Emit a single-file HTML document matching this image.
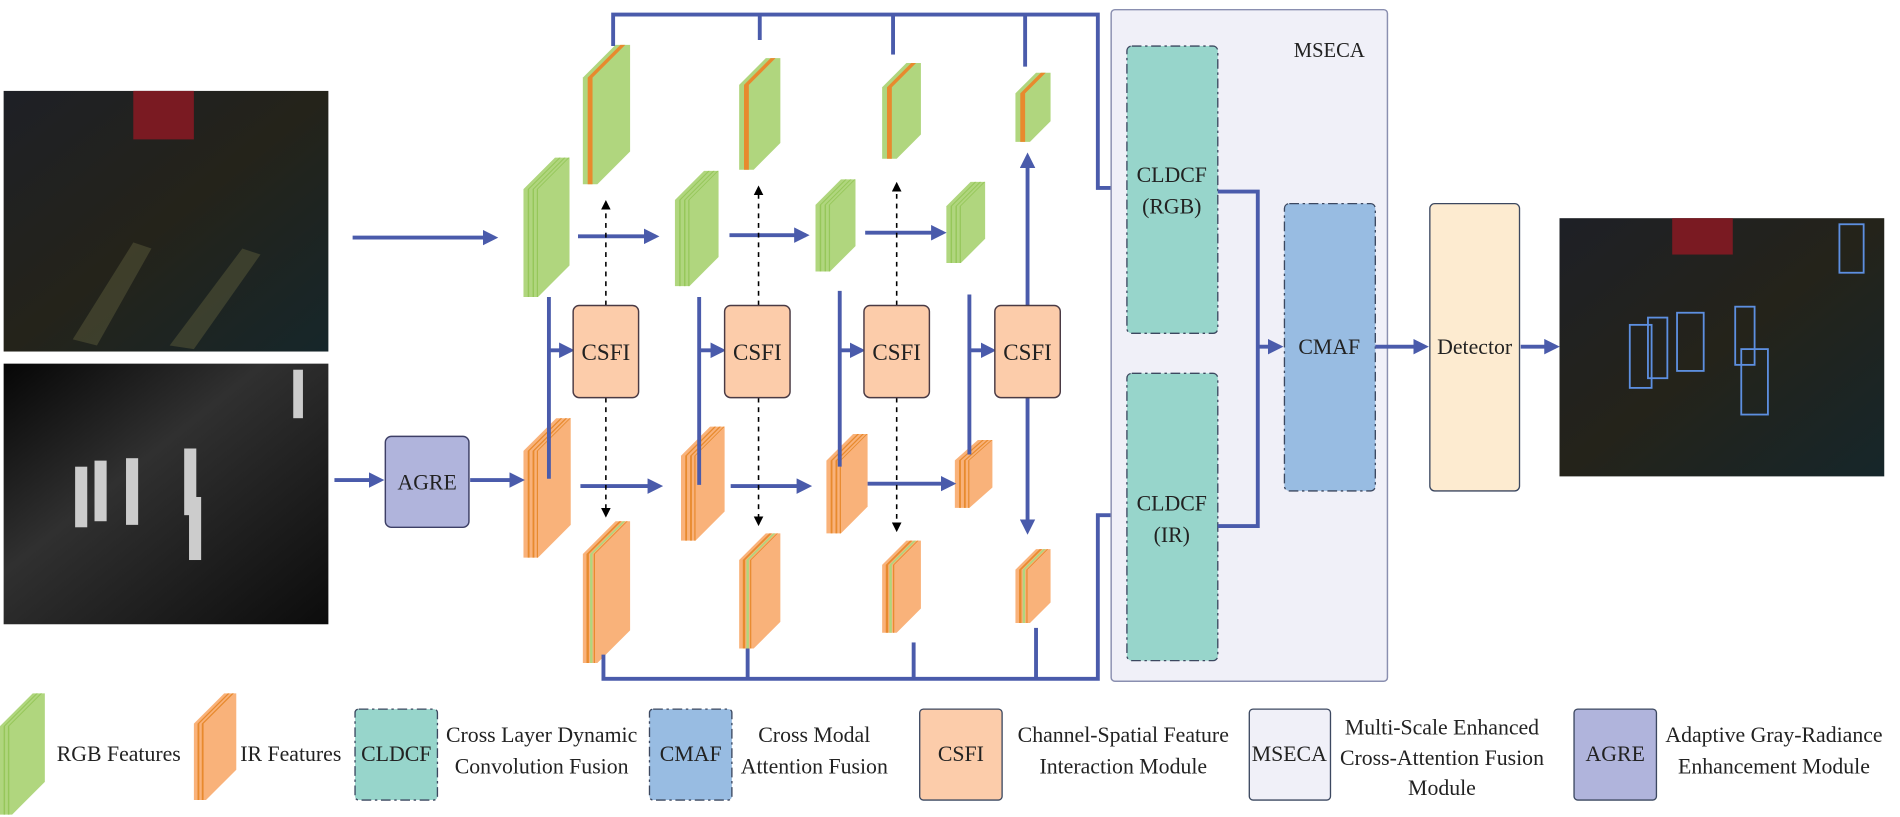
<!DOCTYPE html>
<html><head><meta charset="utf-8"><style>
html,body{margin:0;padding:0;background:#fff;}
svg{display:block;}
text{font-family:"Liberation Serif",serif;fill:#222;}
</style></head><body>
<svg id="s" width="1900" height="817" viewBox="0 0 1568 674" preserveAspectRatio="none" xmlns="http://www.w3.org/2000/svg">
<defs>
<marker id="ab" markerWidth="4" markerHeight="4" refX="3" refY="2" orient="auto" markerUnits="strokeWidth"><path d="M0,0 L4,2 L0,4 z" fill="#4a5bab"/></marker>
<marker id="ak" markerWidth="8" markerHeight="8" refX="6" refY="4" orient="auto" markerUnits="userSpaceOnUse"><path d="M0,0 L8,4 L0,8 z" fill="#000"/></marker>
<linearGradient id="rgbp" x1="0" y1="0" x2="1" y2="1"><stop offset="0" stop-color="#1e2026"/><stop offset="0.5" stop-color="#24231a"/><stop offset="1" stop-color="#16262a"/></linearGradient>
<linearGradient id="irp" x1="0" y1="0" x2="1" y2="1"><stop offset="0" stop-color="#060606"/><stop offset="0.4" stop-color="#303030"/><stop offset="1" stop-color="#0c0c0c"/></linearGradient>
</defs>

<rect x="3" y="75" width="268" height="215" fill="url(#rgbp)"/>
<rect x="110" y="75" width="50" height="40" fill="#7a1a22"/>
<polygon points="60,280 110,200 125,205 80,285" fill="#5a5a3a" opacity="0.5"/>
<polygon points="140,285 200,205 215,210 160,288" fill="#5a5a3a" opacity="0.5"/>
<rect x="3" y="300" width="268" height="215" fill="url(#irp)"/>
<g fill="#ccc"><rect x="62" y="385" width="10" height="50"/><rect x="78" y="380" width="10" height="50"/><rect x="104" y="378" width="10" height="55"/><rect x="152" y="370" width="10" height="55"/><rect x="156" y="410" width="10" height="52"/><rect x="242" y="305" width="8" height="40"/></g>

<rect x="1287" y="180" width="268" height="213" fill="url(#rgbp)"/>
<rect x="1380" y="180" width="50" height="30" fill="#7a1a22"/>
<g fill="none" stroke="#5d8fe0" stroke-width="1.5"><rect x="1518" y="185" width="20" height="40"/><rect x="1345" y="268" width="18" height="52"/><rect x="1360" y="262" width="16" height="50"/><rect x="1384" y="258" width="22" height="48"/><rect x="1432" y="253" width="16" height="48"/><rect x="1437" y="288" width="22" height="54"/></g>

<g id="stacks"></g>

<g stroke="#4a5bab" stroke-width="3.2" fill="none">
<line x1="291" y1="196" x2="408" y2="196" marker-end="url(#ab)"/>
<line x1="276" y1="396" x2="314" y2="396" marker-end="url(#ab)"/>
<line x1="388" y1="396" x2="430" y2="396" marker-end="url(#ab)"/>
<line x1="477" y1="195" x2="541" y2="195" marker-end="url(#ab)"/>
<line x1="602" y1="194" x2="665" y2="194" marker-end="url(#ab)"/>
<line x1="714" y1="192" x2="778" y2="192" marker-end="url(#ab)"/>
<line x1="479" y1="401" x2="544" y2="401" marker-end="url(#ab)"/>
<line x1="603" y1="401" x2="667" y2="401" marker-end="url(#ab)"/>
<line x1="716" y1="399" x2="786" y2="399" marker-end="url(#ab)"/>
<line x1="453" y1="245" x2="453" y2="395"/><line x1="453" y1="289" x2="471" y2="289" marker-end="url(#ab)"/>
<line x1="577" y1="245" x2="577" y2="400"/><line x1="577" y1="289" x2="596" y2="289" marker-end="url(#ab)"/>
<line x1="693" y1="240" x2="693" y2="385"/><line x1="693" y1="289" x2="711" y2="289" marker-end="url(#ab)"/>
<line x1="800" y1="243" x2="800" y2="375"/><line x1="800" y1="289" x2="819" y2="289" marker-end="url(#ab)"/>
<line x1="848" y1="252" x2="848" y2="129" marker-end="url(#ab)"/>
<line x1="848" y1="328" x2="848" y2="438" marker-end="url(#ab)"/>
<polyline points="506,38 506,12 906,12 906,155 926,155" marker-end="url(#ab)"/>
<line x1="627" y1="12" x2="627" y2="33"/><line x1="737" y1="12" x2="737" y2="45"/><line x1="846" y1="12" x2="846" y2="55"/>
<polyline points="498,540 498,560 906,560 906,425 926,425" marker-end="url(#ab)"/>
<line x1="617" y1="560" x2="617" y2="535"/><line x1="754" y1="560" x2="754" y2="530"/><line x1="855" y1="560" x2="855" y2="518"/>
</g>
<g stroke="#000" stroke-width="1.3" stroke-dasharray="4,4" fill="none">
<line x1="500" y1="252" x2="500" y2="167" marker-end="url(#ak)"/><line x1="500" y1="328" x2="500" y2="425" marker-end="url(#ak)"/>
<line x1="626" y1="252" x2="626" y2="155" marker-end="url(#ak)"/><line x1="626" y1="328" x2="626" y2="432" marker-end="url(#ak)"/>
<line x1="740" y1="252" x2="740" y2="152" marker-end="url(#ak)"/><line x1="740" y1="328" x2="740" y2="437" marker-end="url(#ak)"/>
</g>

<rect x="318" y="360" width="69" height="75" rx="5" fill="#b0b4dc" stroke="#3d3f66" stroke-width="1.2"/>
<text x="352.5" y="404" font-size="18" text-anchor="middle">AGRE</text>
<g fill="#fcccaa" stroke="#4a3a44" stroke-width="1.2">
<rect x="473" y="252" width="54" height="76" rx="5"/><rect x="598" y="252" width="54" height="76" rx="5"/><rect x="713" y="252" width="54" height="76" rx="5"/><rect x="821" y="252" width="54" height="76" rx="5"/>
</g>
<g font-size="19" text-anchor="middle"><text x="500" y="297">CSFI</text><text x="625" y="297">CSFI</text><text x="740" y="297">CSFI</text><text x="848" y="297">CSFI</text></g>

<rect x="917" y="8" width="228" height="554" rx="3" fill="#f0f0f8" stroke="#8a8fb0" stroke-width="1.2"/>
<text x="1097" y="47" font-size="17" text-anchor="middle">MSECA</text>
<g fill="#97d5cb" stroke="#3c4860" stroke-width="1.1" stroke-dasharray="8,3,2,3">
<rect x="930" y="38" width="75" height="237" rx="4"/><rect x="930" y="308" width="75" height="237" rx="4"/>
</g>
<rect x="1060" y="168" width="75" height="237" rx="4" fill="#98bce2" stroke="#3c4860" stroke-width="1.1" stroke-dasharray="8,3,2,3"/>
<rect x="1180" y="168" width="74" height="237" rx="4" fill="#fdebd0" stroke="#3c4860" stroke-width="1.1"/>
<g font-size="18" text-anchor="middle">
<text x="967" y="150">CLDCF</text><text x="967" y="176">(RGB)</text>
<text x="967" y="421">CLDCF</text><text x="967" y="447">(IR)</text>
<text x="1097" y="292">CMAF</text><text x="1217" y="292">Detector</text>
</g>
<g stroke="#4a5bab" stroke-width="3.2" fill="none">
<polyline points="1005,158 1038,158 1038,434 1005,434"/>
<line x1="1038" y1="286" x2="1056" y2="286" marker-end="url(#ab)"/>
<line x1="1135" y1="286" x2="1176" y2="286" marker-end="url(#ab)"/>
<line x1="1255" y1="286" x2="1284" y2="286" marker-end="url(#ab)"/>
</g>

<g stroke="#3c4860" stroke-width="1.1">
<rect x="293" y="585" width="68" height="75" fill="#97d5cb" stroke-dasharray="8,3,2,3" rx="3"/>
<rect x="536" y="585" width="68" height="75" fill="#98bce2" stroke-dasharray="8,3,2,3" rx="3"/>
<rect x="759" y="585" width="68" height="75" fill="#fcccaa" rx="3"/>
<rect x="1031" y="585" width="67" height="75" fill="#f0f0f8" rx="3"/>
<rect x="1299" y="585" width="68" height="75" fill="#b0b4dc" rx="3"/>
</g>
<g font-size="18" text-anchor="middle">
<text x="98" y="628">RGB Features</text>
<text x="240" y="628">IR Features</text>
<text x="327" y="628">CLDCF</text>
<text x="447" y="612">Cross Layer Dynamic</text><text x="447" y="638">Convolution Fusion</text>
<text x="570" y="628">CMAF</text>
<text x="672" y="612">Cross Modal</text><text x="672" y="638">Attention Fusion</text>
<text x="793" y="628">CSFI</text>
<text x="927" y="612">Channel-Spatial Feature</text><text x="927" y="638">Interaction Module</text>
<text x="1064" y="628">MSECA</text>
<text x="1190" y="606">Multi-Scale Enhanced</text><text x="1190" y="631">Cross-Attention Fusion</text><text x="1190" y="656">Module</text>
<text x="1333" y="628">AGRE</text>
<text x="1464" y="612">Adaptive Gray-Radiance</text><text x="1464" y="638">Enhancement Module</text>
</g>
</svg>
<script>
(function(){
var g=document.getElementById('stacks'),out='';
var G='#b0d67e',GD='#96c75a',O='#f9b27a',OD='#e88a2e';
function st(x,y,w,h,t,base,stripes){
 var dx=w-t,dy=Math.min(dx,h*0.3);
 out+='<polygon points="'+x+','+(y+dy)+' '+(x+dx)+','+y+' '+(x+w)+','+y+' '+(x+w)+','+(y+h-dy)+' '+(x+t)+','+(y+h)+' '+x+','+(y+h)+'" fill="'+base+'"/>';
 stripes.forEach(function(s){
  var sx=x+s[0],sw=s[1];
  out+='<polygon points="'+sx+','+(y+dy)+' '+(sx+dx)+','+y+' '+(sx+dx+sw)+','+y+' '+(sx+sw)+','+(y+dy)+' '+(sx+sw)+','+(y+h)+' '+sx+','+(y+h)+'" fill="'+s[2]+'"/>';
 });
}
function rgb(x,y,w,h){st(x,y,w,h,12,G,[[3.5,1.2,GD],[7.5,1.2,GD],[11,1,GD]]);}
function ir(x,y,w,h){st(x,y,w,h,12,O,[[3.5,1.5,OD],[7.5,1.5,OD],[11,1,OD]]);}
function ft(x,y,w,h){st(x,y,w,h,12,G,[[4,4,OD]]);}
function fb(x,y,w,h){st(x,y,w,h,12,O,[[3,2,OD],[6,2,G],[9,1,OD]]);}
rgb(432,130,38,115);rgb(557,141,36,95);rgb(673,148,33,76);rgb(781,150,32,67);
ir(432,345,39,115);ir(562,352,36,94);ir(682,358,34,82);ir(788,363,31,56);
ft(481,37,39,115);ft(610,48,34,92);ft(728,52,32,79);ft(838,60,29,57);
fb(481,430,39,117);fb(610,440,34,95);fb(728,446,32,76);fb(838,453,29,61);
st(0,572,37,100,10,G,[[3,1.2,GD],[6.5,1.2,GD]]);
st(160,572,35,88,10,O,[[3,1.5,OD],[6.5,1.5,OD]]);
g.innerHTML=out;
})();
</script>
</body></html>
